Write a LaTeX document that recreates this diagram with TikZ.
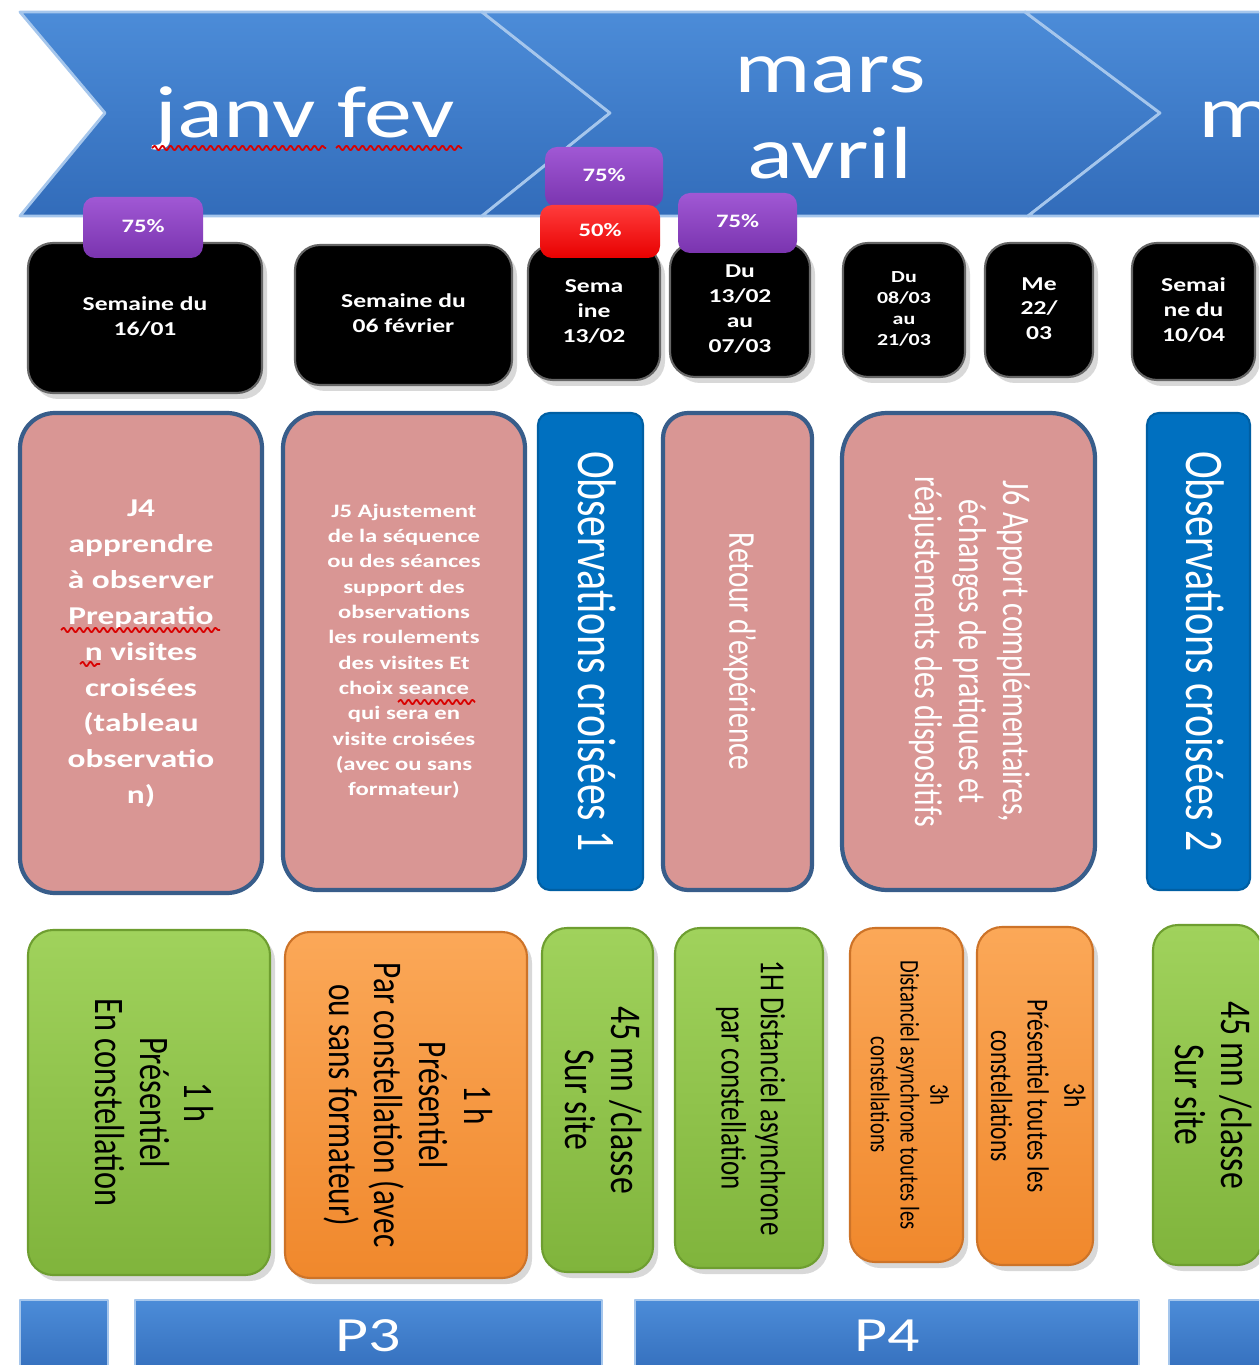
\documentclass[tikz,border=0pt]{standalone}
\usepackage{fontspec}
\setmainfont{Carlito}
\usepackage{graphicx}
\usetikzlibrary{shadows,decorations.pathmorphing}

\definecolor{bandtop}{RGB}{76,140,216}
\definecolor{bandbot}{RGB}{50,108,186}
\definecolor{bandrim}{RGB}{165,198,236}
\definecolor{purphi}{RGB}{160,88,212}
\definecolor{purp}{RGB}{122,52,175}
\definecolor{rougehi}{RGB}{255,60,60}
\definecolor{rouge}{RGB}{232,0,0}
\definecolor{rose}{RGB}{217,150,148}
\definecolor{roserim}{RGB}{56,93,138}
\definecolor{bleu}{RGB}{0,112,192}
\definecolor{vertA}{RGB}{160,210,92}
\definecolor{vertB}{RGB}{128,180,60}
\definecolor{vertrim}{RGB}{110,158,48}
\definecolor{orA}{RGB}{251,168,88}
\definecolor{orB}{RGB}{240,136,44}
\definecolor{orrim}{RGB}{205,115,40}

\newcommand{\fsz}[2]{\fontsize{#1}{#2}\selectfont}
\newcommand{\hlines}[1]{\scalebox{1.3}[1]{\begin{tabular}{@{}c@{}}#1\end{tabular}}}
\newcommand{\vlines}[1]{\scalebox{1.3}[1]{\rotatebox{-90}{\begin{tabular}{@{}c@{}}#1\end{tabular}}}}

\tikzset{
  wh/.style 2 args={minimum width=#1*0.1mm, minimum height=#2*0.1mm, inner sep=0pt},
  band/.style={top color=bandtop, bottom color=bandbot, draw=bandrim, line width=0.8pt},
  mois/.style={inner sep=0pt, text=white, font=\fsz{21}{24.5}},
  week/.style={rounded corners=2.5mm, fill=black, draw=black!60, line width=0.6pt, text=white,
    font=\bfseries\fsz{5.6}{7.1}, drop shadow={opacity=0.3, shadow xshift=0.5mm, shadow yshift=-0.6mm}},
  pct/.style={rounded corners=1.2mm, top color=purphi, bottom color=purp, text=white,
    font=\bfseries\fsz{5.4}{6.5}},
  pctred/.style={pct, top color=rougehi, bottom color=rouge},
  jour/.style={rounded corners=3.5mm, fill=rose, draw=roserim, line width=1.2pt, text=white},
  obs/.style={rounded corners=1.2mm, fill=bleu, draw=bleu!85!black, line width=0.6pt, text=white,
    font=\fsz{11.9}{13}},
  vert/.style={rounded corners=2.5mm, top color=vertA, bottom color=vertB, draw=vertrim,
    line width=0.6pt, text=black, drop shadow={opacity=0.3, shadow xshift=0.5mm, shadow yshift=-0.6mm}},
  orbox/.style={rounded corners=2.5mm, top color=orA, bottom color=orB, draw=orrim,
    line width=0.6pt, text=black, drop shadow={opacity=0.3, shadow xshift=0.5mm, shadow yshift=-0.6mm}},
  periode/.style={top color=bandtop, bottom color=bandbot, draw=bandrim, line width=0.6pt,
    text=white, font=\fsz{14}{16}},
  wavy/.style={red!85!black, line width=0.5pt, decorate,
    decoration={snake, amplitude=0.22mm, segment length=0.8mm}}
}

\begin{document}
\begin{tikzpicture}[x=0.1mm, y=-0.1mm, line join=round]
  \useasboundingbox (0,0) rectangle (1259,1365);
  \clip (0,0) rectangle (1259,1365);
  \fill[white] (0,0) rectangle (1259,1365);

  % bandeau des mois
  \draw[band] (20,12) -- (482,12) -- (610,113) -- (482,216) -- (20,216) -- (105,113) -- cycle;
  \draw[band] (482,12) -- (1025,12) -- (1160,113) -- (1028,216) -- (482,216) -- (610,113) -- cycle;
  \draw[band] (1025,12) -- (1280,12) -- (1280,216) -- (1028,216) -- (1160,113) -- cycle;
  \node[mois] (janv) at (305,120) {\hlines{janv fev}};
  \node[mois] (mars) at (830,118) {\hlines{mars\\avril}};
  \node[mois, anchor=west] (mai) at (1198,120) {\hlines{m}};
  \draw[wavy] (152,148) -- (326,148);
  \draw[wavy] (336,148) -- (462,148);

  % semaines
  \node[week, wh={234}{150}] (s1) at (145,318) {\hlines{Semaine du\\16/01}};
  \node[week, wh={217}{140}] (s2) at (403.5,315) {\hlines{Semaine du\\06 février}};
  \node[week, wh={132}{135}] (s3) at (594,312.5) {\hlines{Sema\\ine\\13/02}};
  \node[week, wh={140}{134}] (s4) at (740,310) {\hlines{Du\\13/02\\au\\07/03}};
  \node[week, wh={122}{134}, font=\bfseries\fsz{4.8}{6}] (s5) at (904,310) {\hlines{Du\\08/03\\au\\21/03}};
  \node[week, wh={108}{134}] (s6) at (1039,310) {\hlines{Me\\22/\\03}};
  \node[week, wh={123}{137}] (s7) at (1193.5,311.5) {\hlines{Semai\\ne du\\10/04}};

  % pourcentages
  \node[pct, wh={120}{61}] (p1) at (143,227.5) {\hlines{75\%}};
  \node[pct, wh={118}{60}] (p3a) at (604,177) {\hlines{75\%}};
  \node[pctred, wh={120}{53}] (p3b) at (600,231.5) {\hlines{50\%}};
  \node[pct, wh={119}{60}] (p4) at (737.5,223) {\hlines{75\%}};

  % journees
  \node[jour, wh={242}{480}, font=\bfseries\fsz{7.3}{10.2}] (j4) at (141,653)
    {\hlines{J4\\apprendre\\à observer\\Preparatio\\n visites\\croisées\\(tableau\\observatio\\n)}};
  \node[jour, wh={242}{477}, font=\bfseries\fsz{5.4}{7.2}] (j5) at (404,651.5)
    {\hlines{J5 Ajustement\\de la séquence\\ou des séances\\support des\\observations\\les roulements\\des visites Et\\choix seance\\qui sera en\\visite croisées\\(avec ou sans\\formateur)}};
  \node[obs, wh={105}{477}] (obs1) at (590.5,651.5) {\vlines{Observations croisées 1}};
  \node[jour, rounded corners=2.5mm, wh={149}{477}, font=\fsz{8.3}{9}] (ret) at (737.5,651.5)
    {\vlines{Retour d'expérience}};
  \node[jour, rounded corners=4.5mm, wh={253}{477}, font=\fsz{8.5}{9.6}] (j6) at (968.5,651.5)
    {\vlines{J6 Apport complémentaires,\\échanges de pratiques et\\réajustements des dispositifs}};
  \node[obs, wh={103}{477}] (obs2) at (1198.5,651.5) {\vlines{Observations croisées 2}};
  \draw[wavy] (61,630) -- (220,630);
  \draw[wavy] (80,664) -- (100,664);
  \draw[wavy] (398,702) -- (475,702);

  % modalites
  \node[vert, wh={242}{345}, font=\fsz{9.2}{9.7}] (m1) at (149,1102.5)
    {\vlines{1 h\\Présentiel\\En constellation}};
  \node[orbox, wh={242}{346}, font=\fsz{8.9}{9.9}] (m2) at (406,1105)
    {\vlines{1 h\\Présentiel\\Par constellation (avec\\ou sans formateur)}};
  \node[vert, wh={111}{344}, font=\fsz{9.6}{10}] (m3) at (597.5,1100) {\vlines{45 mn /classe\\Sur site}};
  \node[vert, wh={148}{340}, font=\fsz{7.7}{8.6}] (m4) at (749,1098)
    {\vlines{1H Distanciel asynchrone\\par constellation}};
  \node[orbox, wh={113}{334}, font=\fsz{5.9}{6.5}] (m5) at (906.5,1095)
    {\vlines{3h\\Distanciel asynchrone toutes les\\constellations}};
  \node[orbox, wh={116}{338}, font=\fsz{6.7}{8}] (m6) at (1035,1096)
    {\vlines{3h\\Présentiel toutes les\\constellations}};
  \node[vert, wh={109}{340}, font=\fsz{9.6}{10}] (m7) at (1207.5,1095) {\vlines{45 mn /classe\\Sur site}};

  % periodes
  \node[periode, wh={88}{80}] (q0) at (64,1340) {};
  \node[periode, wh={467}{80}] (q3) at (368.5,1340) {\hlines{P3}};
  \node[periode, wh={504}{80}] (q4) at (887,1340) {\hlines{P4}};
  \node[periode, wh={106}{80}] (q5) at (1222,1340) {};
\end{tikzpicture}
\end{document}
